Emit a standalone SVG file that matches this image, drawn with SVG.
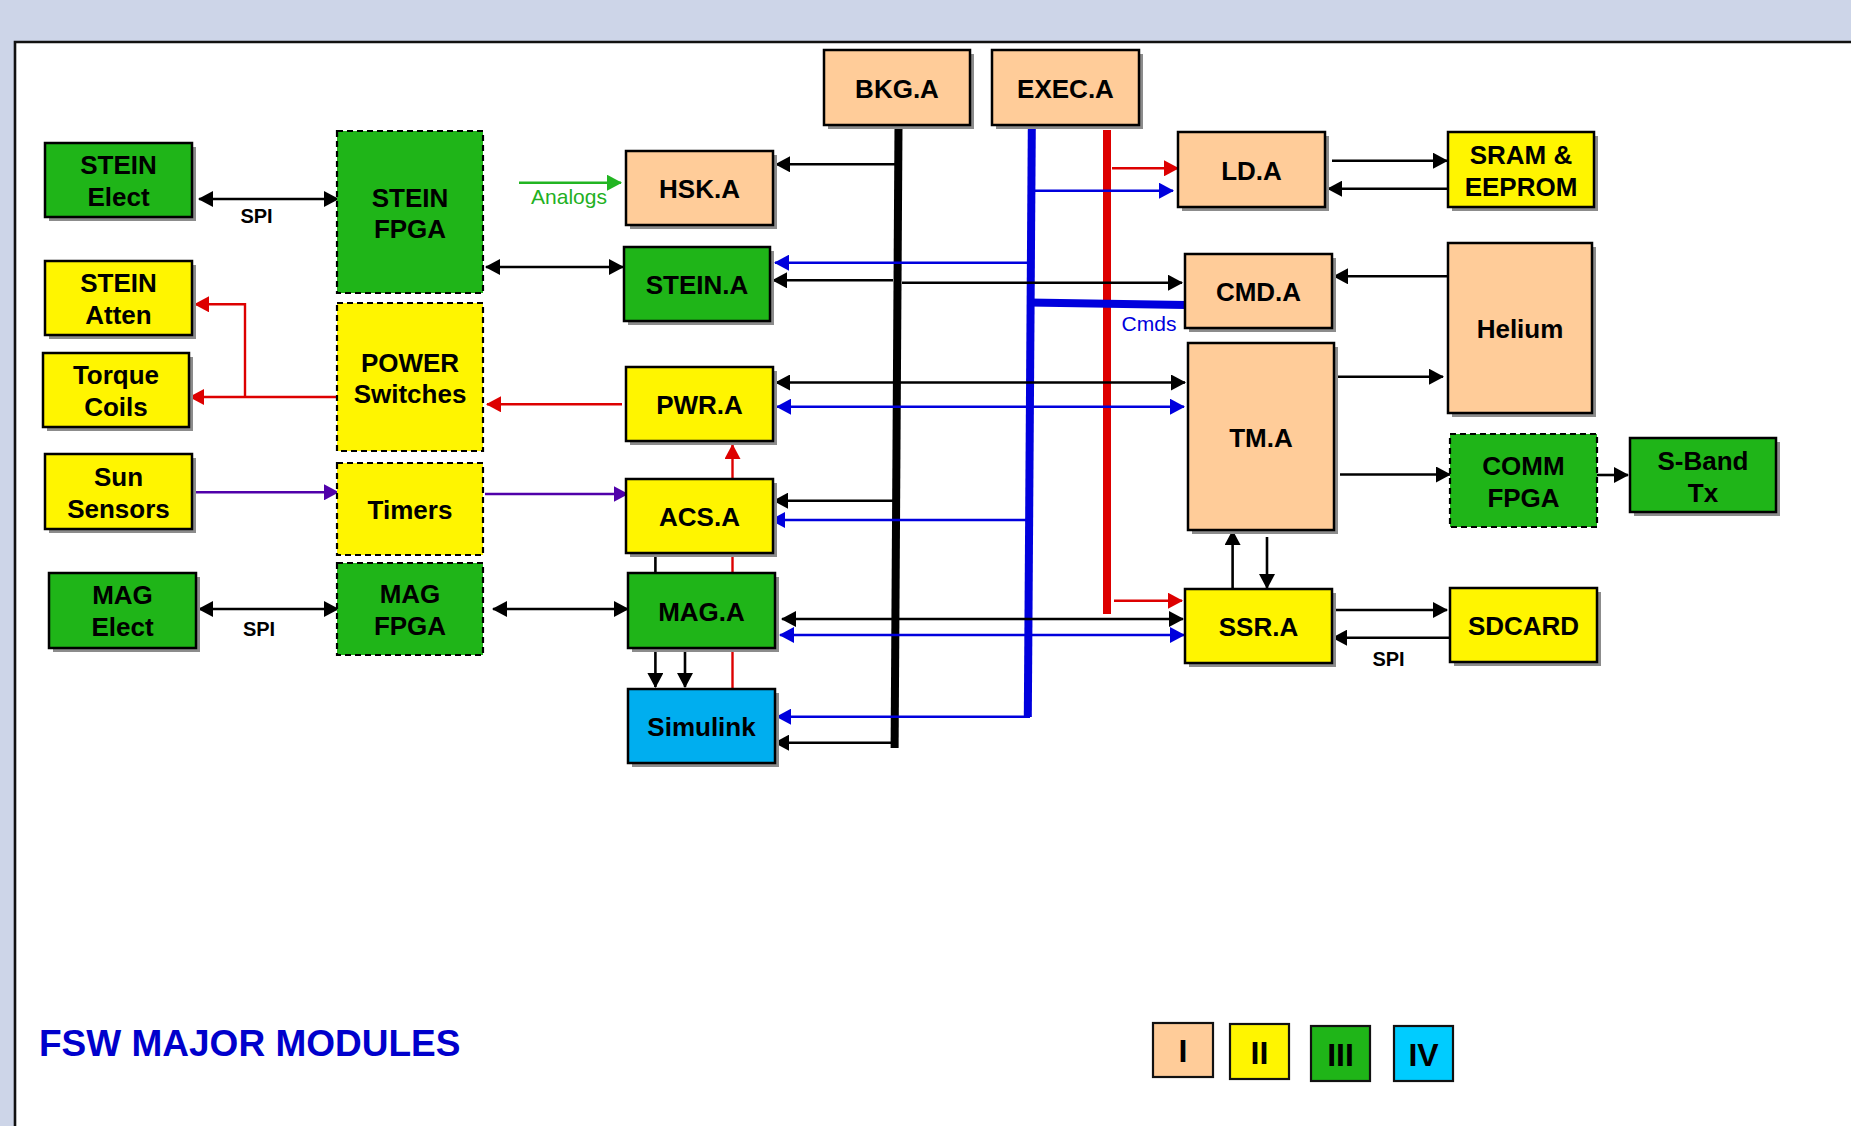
<svg xmlns="http://www.w3.org/2000/svg" width="1851" height="1126" viewBox="0 0 1851 1126">
<style>
.sh{fill:#8c8c8c}
.bx{stroke:#000;stroke-width:2.5}
.ds{stroke:#000;stroke-width:2.2;stroke-dasharray:6 4}
.o{fill:#FFCC99}
.y{fill:#FFF500}
.g{fill:#1FB518}
.c{fill:#00AEEF}
.t{font-family:"Liberation Sans",Arial,Helvetica,sans-serif;font-weight:bold;font-size:26px;text-anchor:middle;fill:#000}
.k{fill:none;stroke:#000;stroke-width:2.6}
.b{fill:none;stroke:#0000DD;stroke-width:2.4}
.r{fill:none;stroke:#DD0000;stroke-width:2.4}
.p{fill:none;stroke:#5000AA;stroke-width:2.6}
.gr{fill:none;stroke:#22B522;stroke-width:2.6}
.lbl{font-family:"Liberation Sans",Arial,Helvetica,sans-serif;font-size:21px}
</style>
<defs>
<marker id="ak" viewBox="0 0 15 16" refX="14" refY="8" markerWidth="15" markerHeight="16" markerUnits="userSpaceOnUse" orient="auto-start-reverse"><path d="M0,0 L15,8 L0,16 z" fill="#000"/></marker>
<marker id="ab" viewBox="0 0 15 16" refX="14" refY="8" markerWidth="15" markerHeight="16" markerUnits="userSpaceOnUse" orient="auto-start-reverse"><path d="M0,0 L15,8 L0,16 z" fill="#0000DD"/></marker>
<marker id="ar" viewBox="0 0 15 16" refX="14" refY="8" markerWidth="15" markerHeight="16" markerUnits="userSpaceOnUse" orient="auto-start-reverse"><path d="M0,0 L15,8 L0,16 z" fill="#DD0000"/></marker>
<marker id="ap" viewBox="0 0 15 16" refX="14" refY="8" markerWidth="15" markerHeight="16" markerUnits="userSpaceOnUse" orient="auto-start-reverse"><path d="M0,0 L15,8 L0,16 z" fill="#5000AA"/></marker>
<marker id="ag" viewBox="0 0 15 16" refX="14" refY="8" markerWidth="15" markerHeight="16" markerUnits="userSpaceOnUse" orient="auto-start-reverse"><path d="M0,0 L15,8 L0,16 z" fill="#22B522"/></marker>
</defs>

<g id="frame">
<rect x="0" y="0" width="1851" height="1126" fill="#fff"/>
<rect x="0" y="0" width="1851" height="42" fill="#CDD5E8"/>
<rect x="0" y="0" width="14" height="1126" fill="#CDD5E8"/>
<path d="M15,1126 V42 H1851" fill="none" stroke="#111" stroke-width="2.6"/>
</g>

<g id="connectors">
<line x1="898.5" y1="126" x2="894.6" y2="748" stroke="#000" stroke-width="8"/>
<line x1="1031.8" y1="128" x2="1027.8" y2="717" stroke="#0000DD" stroke-width="8"/>
<line x1="1107" y1="130" x2="1107" y2="614" stroke="#DD0000" stroke-width="8"/>
<line x1="1029" y1="302.5" x2="1186" y2="305" stroke="#0000DD" stroke-width="8"/>

<line class="k" x1="199" y1="199" x2="338" y2="199" marker-start="url(#ak)" marker-end="url(#ak)"/>
<line class="k" x1="486" y1="267" x2="623" y2="267" marker-start="url(#ak)" marker-end="url(#ak)"/>
<line class="k" x1="199" y1="609" x2="338" y2="609" marker-start="url(#ak)" marker-end="url(#ak)"/>
<line class="k" x1="493" y1="609" x2="628" y2="609" marker-start="url(#ak)" marker-end="url(#ak)"/>
<line class="k" x1="898" y1="164.3" x2="776" y2="164.3" marker-end="url(#ak)"/>
<line class="k" x1="893" y1="280.3" x2="773" y2="280.3" marker-end="url(#ak)"/>
<line class="k" x1="902" y1="282.7" x2="1182" y2="282.7" marker-end="url(#ak)"/>
<line class="k" x1="776" y1="382.5" x2="1185" y2="382.5" marker-start="url(#ak)" marker-end="url(#ak)"/>
<line class="k" x1="894" y1="500.7" x2="774" y2="500.7" marker-end="url(#ak)"/>
<line class="k" x1="782" y1="619" x2="1183" y2="619" marker-start="url(#ak)" marker-end="url(#ak)"/>
<line class="k" x1="895" y1="742.7" x2="775" y2="742.7" marker-end="url(#ak)"/>
<line class="k" x1="655.4" y1="552" x2="655.4" y2="573"/>
<line class="k" x1="655.4" y1="649" x2="655.4" y2="687" marker-end="url(#ak)"/>
<line class="k" x1="685" y1="649" x2="685" y2="687" marker-end="url(#ak)"/>
<line class="k" x1="1332" y1="160.7" x2="1447" y2="160.7" marker-end="url(#ak)"/>
<line class="k" x1="1448" y1="188.7" x2="1328" y2="188.7" marker-end="url(#ak)"/>
<line class="k" x1="1448" y1="276.3" x2="1334" y2="276.3" marker-end="url(#ak)"/>
<line class="k" x1="1338" y1="376.7" x2="1443" y2="376.7" marker-end="url(#ak)"/>
<line class="k" x1="1340" y1="474.5" x2="1450" y2="474.5" marker-end="url(#ak)"/>
<line class="k" x1="1597" y1="475" x2="1628" y2="475" marker-end="url(#ak)"/>
<line class="k" x1="1232.6" y1="589" x2="1232.6" y2="531" marker-end="url(#ak)"/>
<line class="k" x1="1267" y1="537" x2="1267" y2="588" marker-end="url(#ak)"/>
<line class="k" x1="1334" y1="610" x2="1447" y2="610" marker-end="url(#ak)"/>
<line class="k" x1="1450" y1="637.7" x2="1333" y2="637.7" marker-end="url(#ak)"/>

<line class="b" x1="1032" y1="190.7" x2="1173" y2="190.7" marker-end="url(#ab)"/>
<line class="b" x1="1029" y1="262.7" x2="775" y2="262.7" marker-end="url(#ab)"/>
<line class="b" x1="777" y1="406.7" x2="1184" y2="406.7" marker-start="url(#ab)" marker-end="url(#ab)"/>
<line class="b" x1="1028" y1="520" x2="771" y2="520" marker-end="url(#ab)"/>
<line class="b" x1="780" y1="635" x2="1184" y2="635" marker-start="url(#ab)" marker-end="url(#ab)"/>
<line class="b" x1="1030" y1="716.7" x2="777" y2="716.7" marker-end="url(#ab)"/>

<line class="r" x1="1112" y1="168.3" x2="1178" y2="168.3" marker-end="url(#ar)"/>
<line class="r" x1="1114" y1="600.7" x2="1182" y2="600.7" marker-end="url(#ar)"/>
<line class="r" x1="622" y1="404.3" x2="487" y2="404.3" marker-end="url(#ar)"/>
<line class="r" x1="337" y1="397" x2="190" y2="397" marker-end="url(#ar)"/>
<polyline class="r" points="245,397 245,304.3 195,304.3" marker-end="url(#ar)"/>
<line class="r" x1="732.5" y1="689" x2="732.5" y2="445" marker-end="url(#ar)"/>

<line class="p" x1="196" y1="492.3" x2="338" y2="492.3" marker-end="url(#ap)"/>
<line class="p" x1="485" y1="494" x2="627.5" y2="494" marker-end="url(#ap)"/>

<line class="gr" x1="519" y1="182.7" x2="621" y2="182.7" marker-end="url(#ag)"/>
</g>

<g id="labels">
<text class="lbl" x="569" y="204" text-anchor="middle" fill="#22B022">Analogs</text>
<text class="lbl" x="1149" y="330.5" text-anchor="middle" fill="#0000DD">Cmds</text>
<text class="t" x="256.5" y="222.5" style="font-size:20px">SPI</text>
<text class="t" x="259" y="636" style="font-size:20px">SPI</text>
<text class="t" x="1388.5" y="666" style="font-size:20px">SPI</text>
</g>

<g id="n-bkg"><rect class="sh" x="828" y="54" width="146" height="75"/><rect class="bx o" x="824" y="50" width="146" height="75"/><text class="t" x="897" y="97.5">BKG.A</text></g>
<g id="n-exec"><rect class="sh" x="996" y="54" width="147" height="75"/><rect class="bx o" x="992" y="50" width="147" height="75"/><text class="t" x="1065.5" y="97.5">EXEC.A</text></g>
<g id="n-hsk"><rect class="sh" x="630" y="155" width="147" height="74"/><rect class="bx o" x="626" y="151" width="147" height="74"/><text class="t" x="699.5" y="198">HSK.A</text></g>
<g id="n-ld"><rect class="sh" x="1182" y="136" width="147" height="75"/><rect class="bx o" x="1178" y="132" width="147" height="75"/><text class="t" x="1251.5" y="179.5">LD.A</text></g>
<g id="n-cmd"><rect class="sh" x="1189" y="258" width="147" height="74"/><rect class="bx o" x="1185" y="254" width="147" height="74"/><text class="t" x="1258.5" y="301">CMD.A</text></g>
<g id="n-tm"><rect class="sh" x="1192" y="347" width="146" height="187"/><rect class="bx o" x="1188" y="343" width="146" height="187"/><text class="t" x="1261" y="446.5">TM.A</text></g>
<g id="n-helium"><rect class="sh" x="1452" y="247" width="144" height="170"/><rect class="bx o" x="1448" y="243" width="144" height="170"/><text class="t" x="1520" y="338">Helium</text></g>

<g id="n-steinatten"><rect class="sh" x="49" y="265" width="147" height="74"/><rect class="bx y" x="45" y="261" width="147" height="74"/><text class="t" x="118.5" y="292">STEIN</text><text class="t" x="118.5" y="324">Atten</text></g>
<g id="n-torque"><rect class="sh" x="47" y="357" width="146" height="74"/><rect class="bx y" x="43" y="353" width="146" height="74"/><text class="t" x="116" y="384">Torque</text><text class="t" x="116" y="416">Coils</text></g>
<g id="n-sun"><rect class="sh" x="49" y="458" width="147" height="75"/><rect class="bx y" x="45" y="454" width="147" height="75"/><text class="t" x="118.5" y="485.5">Sun</text><text class="t" x="118.5" y="517.5">Sensors</text></g>
<g id="n-power"><rect class="ds y" x="337" y="303" width="146" height="148"/><text class="t" x="410" y="371.5">POWER</text><text class="t" x="410" y="403">Switches</text></g>
<g id="n-timers"><rect class="ds y" x="337" y="463" width="146" height="92"/><text class="t" x="410" y="518.5">Timers</text></g>
<g id="n-pwr"><rect class="sh" x="630" y="371" width="147" height="74"/><rect class="bx y" x="626" y="367" width="147" height="74"/><text class="t" x="699.5" y="414">PWR.A</text></g>
<g id="n-acs"><rect class="sh" x="630" y="483" width="147" height="74"/><rect class="bx y" x="626" y="479" width="147" height="74"/><text class="t" x="699.5" y="526">ACS.A</text></g>
<g id="n-sram"><rect class="sh" x="1452" y="136" width="146" height="75"/><rect class="bx y" x="1448" y="132" width="146" height="75"/><text class="t" x="1521" y="164">SRAM &amp;</text><text class="t" x="1521" y="196">EEPROM</text></g>
<g id="n-ssr"><rect class="sh" x="1189" y="593" width="147" height="74"/><rect class="bx y" x="1185" y="589" width="147" height="74"/><text class="t" x="1258.5" y="636">SSR.A</text></g>
<g id="n-sdcard"><rect class="sh" x="1454" y="592" width="147" height="74"/><rect class="bx y" x="1450" y="588" width="147" height="74"/><text class="t" x="1523.5" y="635">SDCARD</text></g>

<g id="n-steinelect"><rect class="sh" x="49" y="147" width="147" height="74"/><rect class="bx g" x="45" y="143" width="147" height="74"/><text class="t" x="118.5" y="174">STEIN</text><text class="t" x="118.5" y="206">Elect</text></g>
<g id="n-steinfpga"><rect class="ds g" x="337" y="131" width="146" height="162"/><text class="t" x="410" y="206.5">STEIN</text><text class="t" x="410" y="238">FPGA</text></g>
<g id="n-steina"><rect class="sh" x="628" y="251" width="146" height="74"/><rect class="bx g" x="624" y="247" width="146" height="74"/><text class="t" x="697" y="294">STEIN.A</text></g>
<g id="n-magelect"><rect class="sh" x="53" y="577" width="147" height="75"/><rect class="bx g" x="49" y="573" width="147" height="75"/><text class="t" x="122.5" y="603.5">MAG</text><text class="t" x="122.5" y="636">Elect</text></g>
<g id="n-magfpga"><rect class="ds g" x="337" y="563" width="146" height="92"/><text class="t" x="410" y="603">MAG</text><text class="t" x="410" y="635">FPGA</text></g>
<g id="n-maga"><rect class="sh" x="632" y="577" width="147" height="75"/><rect class="bx g" x="628" y="573" width="147" height="75"/><text class="t" x="701.5" y="620.5">MAG.A</text></g>
<g id="n-commfpga"><rect class="ds g" x="1450" y="434" width="147" height="93"/><text class="t" x="1523.5" y="475">COMM</text><text class="t" x="1523.5" y="506.5">FPGA</text></g>
<g id="n-sband"><rect class="sh" x="1634" y="442" width="146" height="74"/><rect class="bx g" x="1630" y="438" width="146" height="74"/><text class="t" x="1703" y="470">S-Band</text><text class="t" x="1703" y="501.5">Tx</text></g>

<g id="n-simulink"><rect class="sh" x="632" y="693" width="147" height="74"/><rect class="bx c" x="628" y="689" width="147" height="74"/><text class="t" x="701.5" y="736">Simulink</text></g>

<g id="legend">
<text x="39" y="1056" style="font-family:'Liberation Sans',Arial,Helvetica,sans-serif;font-weight:bold;font-size:37px" fill="#0000CC">FSW MAJOR MODULES</text>
<rect x="1153" y="1023" width="60" height="54" fill="#FFCC99" stroke="#111" stroke-width="2.2"/>
<text class="t" x="1183" y="1062" style="font-size:32px">I</text>
<rect x="1230" y="1024" width="59" height="55" fill="#FFF500" stroke="#111" stroke-width="2.2"/>
<text class="t" x="1259.5" y="1064" style="font-size:32px">II</text>
<rect x="1311" y="1026" width="59" height="55" fill="#1FB518" stroke="#111" stroke-width="2.2"/>
<text class="t" x="1340.5" y="1066" style="font-size:32px">III</text>
<rect x="1394" y="1026" width="59" height="55" fill="#00CCFF" stroke="#111" stroke-width="2.2"/>
<text class="t" x="1423.5" y="1066" style="font-size:32px">IV</text>
</g>
</svg>
